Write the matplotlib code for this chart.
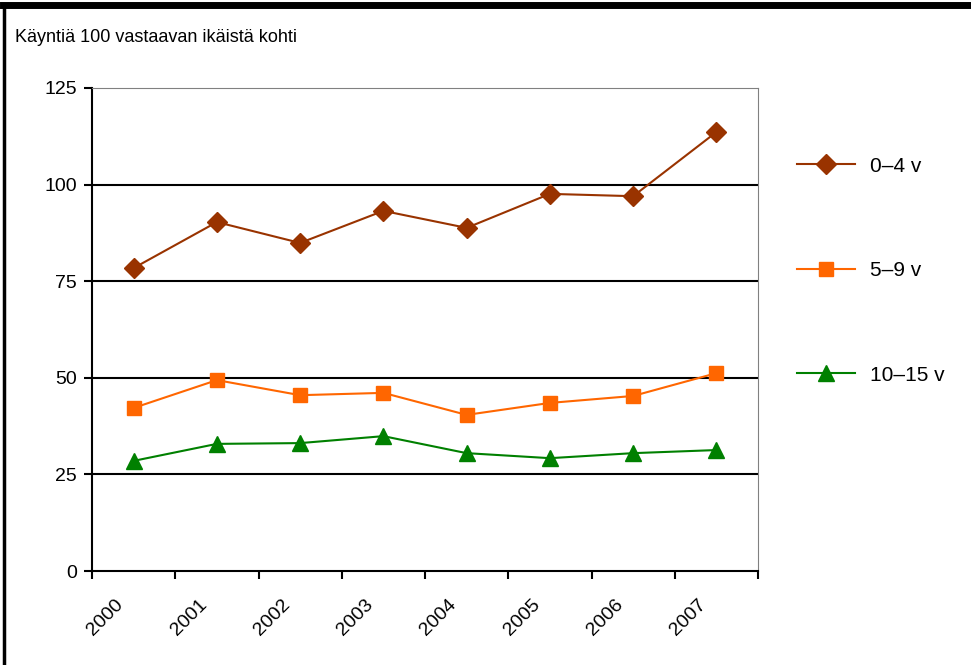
import matplotlib.pyplot as plt
from matplotlib.lines import Line2D

years = ['2000', '2001', '2002', '2003', '2004', '2005', '2006', '2007']
age_0_4 = [78.4, 90.3, 84.9, 93.2, 88.8, 97.6, 97.0, 113.6]
age_5_9 = [42.2, 49.4, 45.5, 46.1, 40.4, 43.5, 45.3, 51.2]
age_10_15 = [28.5, 32.9, 33.1, 34.9, 30.5, 29.2, 30.5, 31.3]
labels = ['0\u20134 v', '5\u20139 v', '10\u201315 v']
yticks = [0, 25, 50, 75, 100, 125]

plt.rcParams['font.family'] = ['Liberation Sans', 'DejaVu Sans']

fig = plt.figure(figsize=(9.71, 6.65), dpi=100, facecolor='white')
ax = fig.add_axes([92 / 971, 1 - 571 / 665, 666 / 971, 483 / 665])

# frame around the whole chart (only top and left visible)
fig.add_artist(Line2D([0.004, 0.004], [0, 0.992], color='black', lw=2.5,
                      transform=fig.transFigure))
fig.add_artist(Line2D([0.003, 1.0], [0.992, 0.992], color='black', lw=5,
                      transform=fig.transFigure))

x = list(range(len(years)))
series = [
    (age_0_4, '#993300', 'D', 10),
    (age_5_9, '#FF6600', 's', 9.5),
    (age_10_15, '#008000', '^', 11),
]
handles = []
for vals, col, mk, ms in series:
    h, = ax.plot(x, vals, color=col, lw=1.5, marker=mk, markersize=ms,
                 markeredgecolor=col, markerfacecolor=col)
    handles.append(h)

ax.set_xlim(-0.5, len(years) - 0.5)
ax.set_ylim(0, 125)
ax.set_yticks(yticks)
ax.set_yticklabels([str(v) for v in yticks], fontsize=14)
ax.set_xticks([i - 0.5 for i in range(len(years) + 1)])
ax.set_xticklabels([])
ax.tick_params(axis='both', length=6, width=1.5, color='black', direction='out')
ax.tick_params(axis='y', pad=5)

for i, yr in enumerate(years):
    ax.text(i - 0.08, -6.5, yr, rotation=45, ha='right', va='top', fontsize=14,
            transform=ax.transData)

for v in yticks[1:-1]:
    ax.axhline(v, color='black', lw=1.5, zorder=0)

ax.spines['left'].set_color('black')
ax.spines['left'].set_linewidth(1.5)
ax.spines['bottom'].set_color('black')
ax.spines['bottom'].set_linewidth(1.5)
ax.spines['top'].set_color('#808080')
ax.spines['right'].set_color('#808080')

fig.text(15 / 971, 1 - 37 / 665, 'Käyntiä 100 vastaavan ikäistä kohti',
         fontsize=13, va='center', ha='left')

leg = fig.legend(handles, labels, loc='upper left',
                 bbox_to_anchor=(778 / 971, 1 - 138 / 665), frameon=False,
                 fontsize=15, labelspacing=4.1, handlelength=2.8,
                 handletextpad=0.7)

fig.savefig('out.png', dpi=100)
